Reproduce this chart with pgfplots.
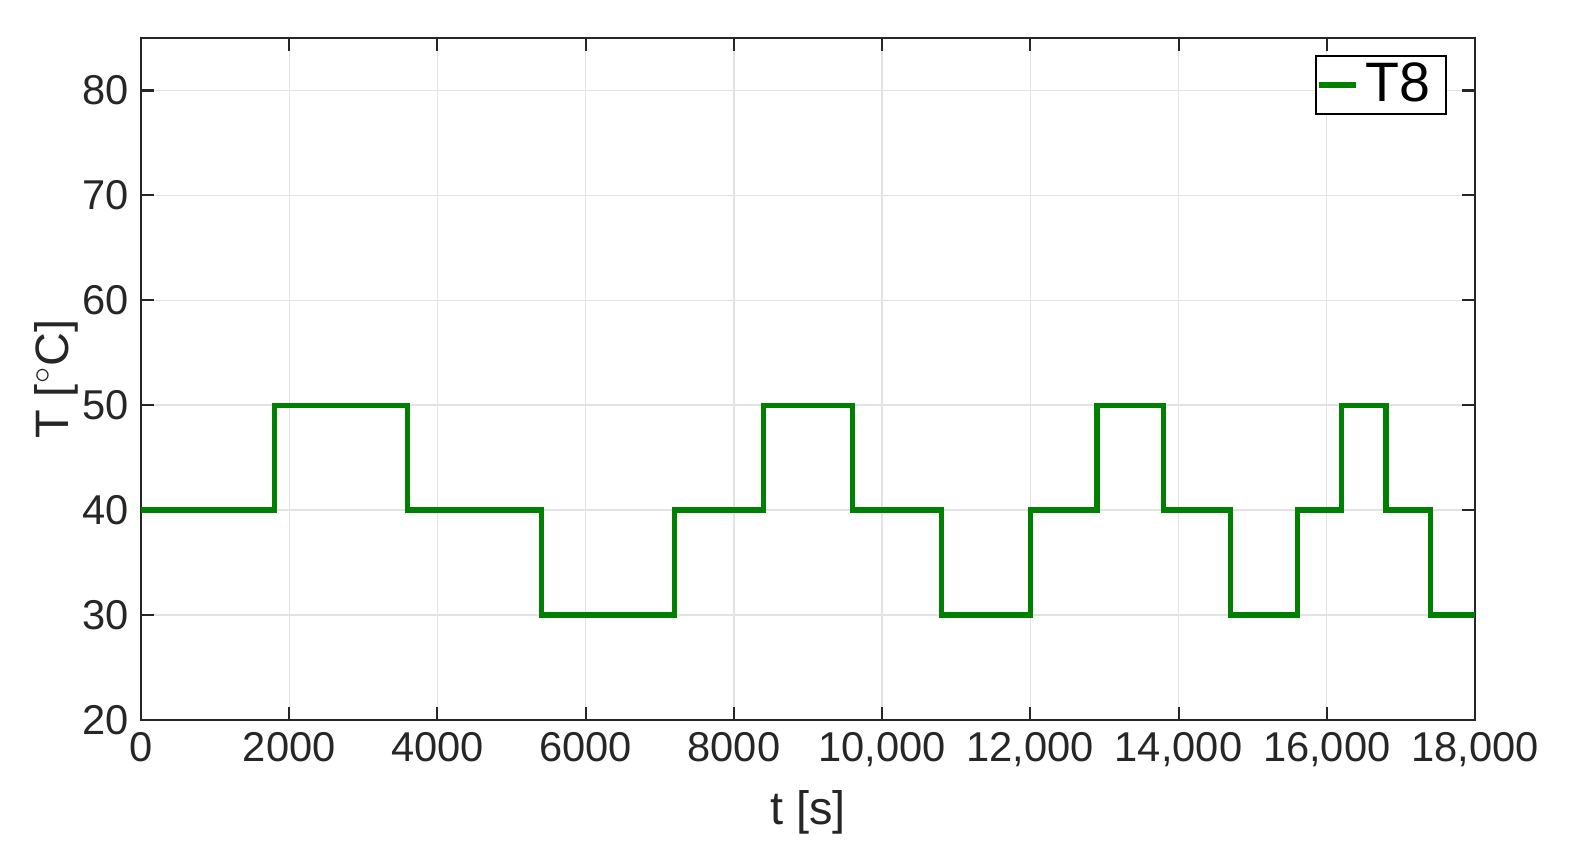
\documentclass[border=0pt]{standalone}
\usepackage{fontspec}
\setmainfont{Liberation Sans}
\usepackage{pgfplots}
\pgfplotsset{compat=1.18}
\definecolor{axgray}{RGB}{38,38,38}
\definecolor{linegreen}{RGB}{0,128,0}
\begin{document}
\begin{tikzpicture}
\begin{axis}[
    at={(0,0)}, anchor=south west,
    width=13.5cm, height=6.9cm, scale only axis,
    xmin=0, xmax=18000, ymin=20, ymax=85,
    xtick={0,2000,...,18000},
    xticklabels={0,2000,4000,6000,8000,{10,000},{12,000},{14,000},{16,000},{18,000}},
    ytick={20,30,...,80},
    scaled x ticks=false,
    tick align=inside, tick pos=both,
    major tick length=0.13cm,
    xmajorgrids, ymajorgrids,
    grid style={line width=0.4pt, draw=gray!22},
    axis line style={axgray, line width=0.6pt},
    every tick/.style={axgray, line width=0.6pt},
    tick label style={font=\fontsize{12}{14}\selectfont, text=axgray},
    /pgf/number format/assume math mode=true,
    label style={font=\fontsize{13.5}{16}\selectfont, text=axgray},
    xlabel={t [s]},
    ylabel={T [$^\circ$C]},
    ylabel shift=-0.2cm,
    legend style={at={(0.979,0.975)}, anchor=north east, draw=black, line width=0.5pt,
        font=\fontsize{16}{18}\selectfont, inner sep=0pt},
    legend cell align=left,
    legend image code/.code={\draw[#1, line width=1.5pt] (-0.12cm,0cm) -- (0.25cm,0cm);},
]
\addplot[const plot, linegreen, line width=1.5pt] coordinates {
(0,40) (1800,50) (3600,40) (5400,30) (7200,40) (8400,50) (9600,40)
(10800,30) (12000,40) (12900,50) (13800,40) (14700,30) (15600,40)
(16200,50) (16800,40) (17400,30) (18000,30)
};
\addlegendentry{T8\,}
\end{axis}
\pgfresetboundingbox
\path (-1.427,-1.407) rectangle (14.573,7.285);
\end{tikzpicture}
\end{document}
